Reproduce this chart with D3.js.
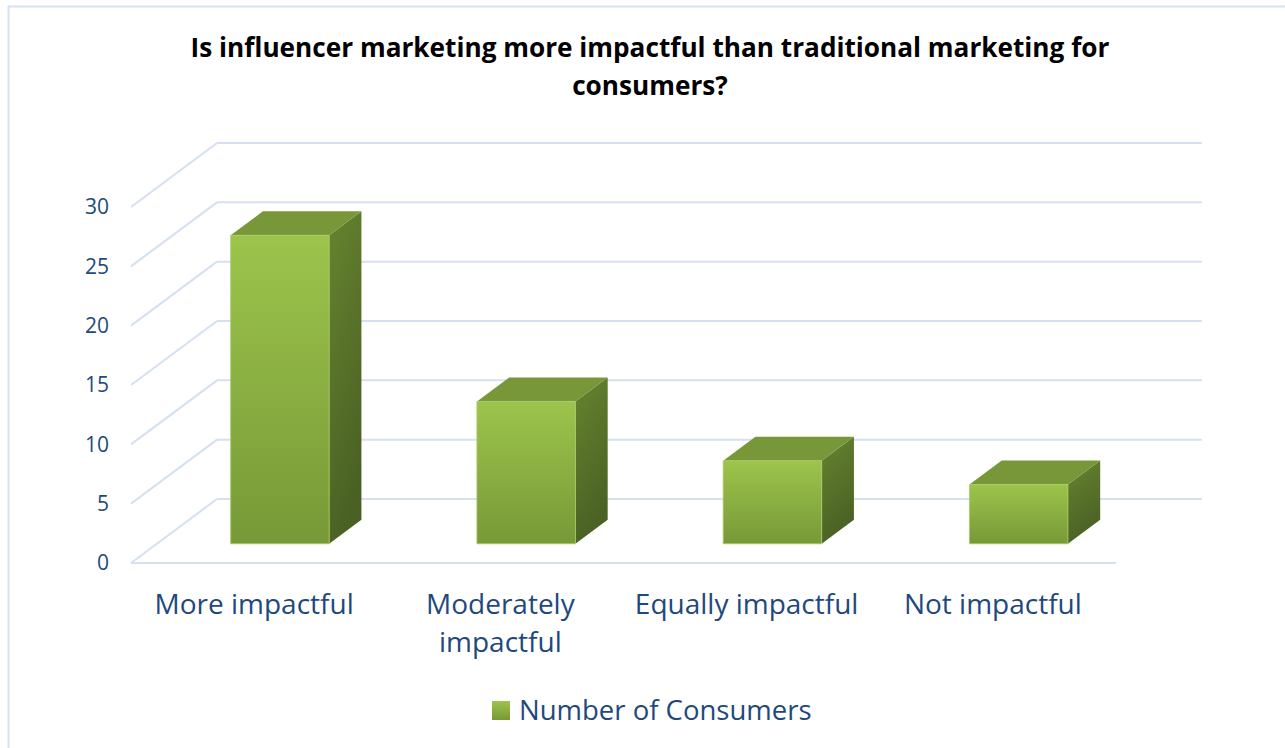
<!DOCTYPE html>
<html>
<head>
<meta charset="utf-8">
<script src="https://cdn.jsdelivr.net/npm/d3@7"></script>
<style>
  body { margin: 0; background: #fff; }
  svg { display: block; font-family: "Open Sans", sans-serif; }
</style>
</head>
<body>
<div id="chart"></div>
<script>
// data
var categories = ["More impactful", "Moderately impactful", "Equally impactful", "Not impactful"];
var consumers = [26, 12, 7, 5];
var yTicks = [0, 5, 10, 15, 20, 25, 30];
var seriesName = "Number of Consumers";
var titleLines = ["Is influencer marketing more impactful than traditional marketing for", "consumers?"];

var W = 1285, H = 748;
var svg = d3.select("#chart").append("svg").attr("width", W).attr("height", H);

// depth offset of the 3d box (x, y)
var DX = 86, DY = -64;
var barZ0 = 0.3, barZ1 = 0.675;
function P(x, y, z) { return [x + z * DX, y + z * DY]; }

var x = d3.scaleBand().domain(categories).range([131, 1116]);
var y = d3.scaleLinear().domain([0, 30]).range([563, 207]);
var barW = x.bandwidth() / 2.5;

// gradients
var defs = svg.append("defs");
function grad(id, stops, x2, y2) {
  var g = defs.append("linearGradient").attr("id", id)
    .attr("x1", 0).attr("y1", 0).attr("x2", x2).attr("y2", y2);
  stops.forEach(function (s) { g.append("stop").attr("offset", s[0]).attr("stop-color", s[1]); });
}
grad("gFront", [[0, "#9dc44c"], [1, "#779937"]], 0, 1);
grad("gSide", [[0, "#66842f"], [1, "#4a6124"]], 0.3, 1);
grad("gLegend", [[0, "#9dc44c"], [1, "#779937"]], 0, 1);

// chart border
svg.append("rect").attr("x", 8.5).attr("y", 6.5).attr("width", 1320).attr("height", 800)
  .attr("fill", "none").attr("stroke", "#d6e2f1").attr("stroke-width", 2);

// title
svg.append("g").selectAll("text").data(titleLines).join("text")
  .attr("x", 650).attr("y", function (d, i) { return 57 + i * 38; })
  .attr("text-anchor", "middle").attr("font-weight", "bold").attr("font-size", 26.2)
  .attr("fill", "#000").text(function (d) { return d; });

var grid = svg.append("g").attr("stroke", "#d5e0f0").attr("stroke-width", 2).attr("fill", "none");
var x0 = x.range()[0], x1 = x.range()[1];
// back wall lines
grid.selectAll("line.back").data(yTicks).join("line").attr("class", "back")
  .attr("x1", P(x0, 0, 1)[0]).attr("x2", P(x1, 0, 1)[0])
  .attr("y1", function (d) { return P(0, y(d), 1)[1]; })
  .attr("y2", function (d) { return P(0, y(d), 1)[1]; });
// side wall lines
grid.selectAll("line.side").data(yTicks).join("line").attr("class", "side")
  .attr("x1", x0).attr("y1", function (d) { return y(d); })
  .attr("x2", P(x0, 0, 1)[0]).attr("y2", function (d) { return P(0, y(d), 1)[1]; });
// floor front edge
grid.append("line").attr("x1", x0).attr("x2", x1).attr("y1", y(0)).attr("y2", y(0));

// y tick labels
svg.append("g").selectAll("text").data(yTicks).join("text")
  .attr("x", 109).attr("y", function (d) { return y(d); })
  .attr("dy", "0.35em").attr("text-anchor", "end").attr("font-size", 21)
  .attr("fill", "#1f497d").text(function (d) { return d; });

// bars
var bars = svg.append("g").selectAll("g").data(categories).join("g");
bars.each(function (c, i) {
  var g = d3.select(this);
  var bx = x(c) + (x.bandwidth() - barW) / 2;
  var yt = y(consumers[i]), yb = y(0);
  var fl = P(bx, yt, barZ0), fr = P(bx + barW, yt, barZ0), frb = P(bx + barW, yb, barZ0), flb = P(bx, yb, barZ0);
  var bl = P(bx, yt, barZ1), br = P(bx + barW, yt, barZ1), brb = P(bx + barW, yb, barZ1);
  var line = d3.line();
  g.append("path").attr("d", line([fr, br, brb, frb]) + "Z").attr("fill", "url(#gSide)");
  g.append("path").attr("d", line([fl, bl, br, fr]) + "Z").attr("fill", "#789739");
  g.append("path").attr("d", line([fl, fr, frb, flb]) + "Z").attr("fill", "url(#gFront)")
    .attr("stroke", "#a9cc66").attr("stroke-width", 0.8);
});

// category labels (wrapped)
var labelLines = { "Moderately impactful": ["Moderately", "impactful"] };
var cat = svg.append("g").selectAll("text").data(categories).join("text")
  .attr("x", function (d) { return x(d) + x.bandwidth() / 2; })
  .attr("y", 614).attr("text-anchor", "middle").attr("font-size", 28).attr("fill", "#1f497d");
cat.each(function (d) {
  var lines = labelLines[d] || [d];
  var t = d3.select(this);
  lines.forEach(function (l, k) {
    t.append("tspan").attr("x", x(d) + x.bandwidth() / 2).attr("dy", k ? 38 : 0).text(l);
  });
});

// legend
svg.append("rect").attr("x", 492).attr("y", 701).attr("width", 18).attr("height", 19).attr("fill", "url(#gLegend)");
svg.append("text").attr("x", 519).attr("y", 720).attr("font-size", 27.5).attr("fill", "#1f497d").text(seriesName);
</script>
</body>
</html>
